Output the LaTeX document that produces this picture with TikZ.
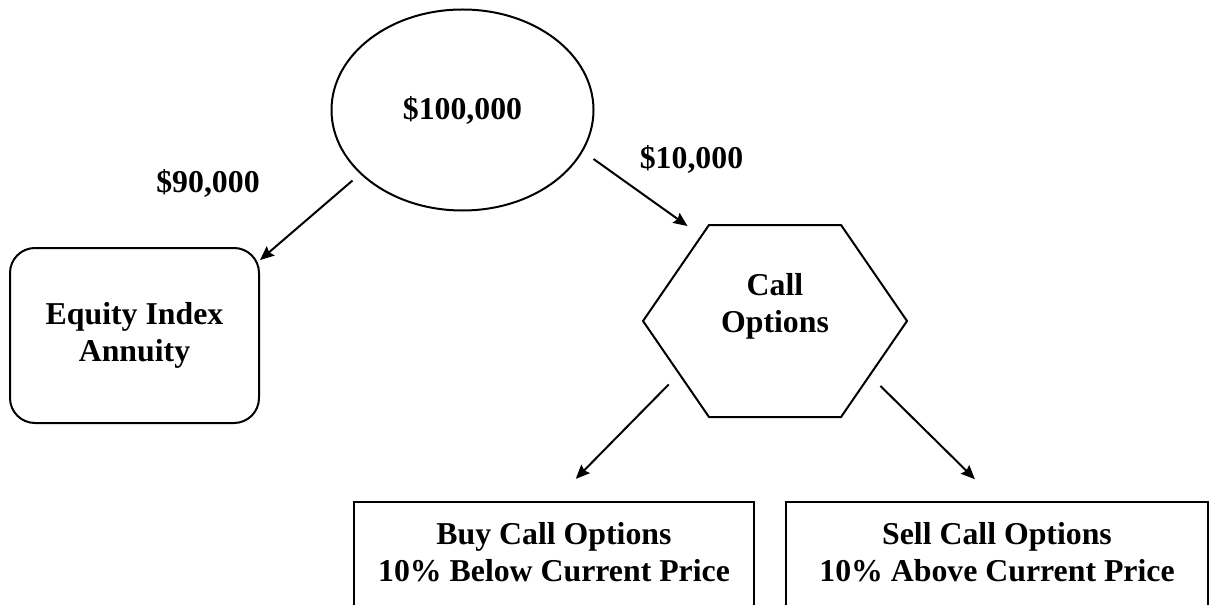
\documentclass[tikz,border=0pt]{standalone}
\usepackage{fontspec}
\setmainfont{Liberation Serif}
\usetikzlibrary{shapes,arrows.meta}

\begin{document}
\begin{tikzpicture}[x=0.5pt, y=-0.5pt, line width=1pt,
      every node/.append style={font=\bfseries\fontsize{15.9}{18.5}\selectfont, align=center},
      arr/.style={-{Stealth[length=7pt,width=6pt,inset=1pt]}}]
    \tikzstyle{money} = [draw, ellipse, inner sep=0pt, minimum width=131pt, minimum height=100.5pt]
    \tikzstyle{product} = [draw, rectangle, rounded corners=12.5pt, minimum width=124.5pt, minimum height=87.5pt]
    \tikzstyle{hexa} = [draw, signal, signal to=west and east, signal pointer angle=111,
      inner sep=0pt, minimum width=132pt, minimum height=96pt]
    \tikzstyle{trade} = [draw, rectangle, minimum height=68pt]
    \clip (0,0) rectangle (1213,604);
    \node (amount) [money] at (462.5,110) {\$100,000};
    \node (annuity) [product] at (134.5,335.5) {Equity Index\\Annuity};
    \node (calls) [hexa] at (775,321) {Call\\Options\\\mbox{}};
    \node (buy) [trade, minimum width=200pt] at (554,570) {Buy Call Options\\10\% Below Current Price\\\mbox{}};
    \node (sell) [trade, minimum width=211pt] at (997,570) {Sell Call Options\\10\% Above Current Price\\\mbox{}};
    \node (ninety) at (208,183) {\$90,000};
    \node (ten) at (691.5,159) {\$10,000};
    % connectors
    \draw [arr, shorten <=5pt] (amount.212) -- (annuity.31);
    \draw [arr, shorten <=6.5pt, shorten >=8pt] (amount.341.6) -- (calls.131.2);
    \draw [arr, shorten <=7pt, shorten >=15.5pt] (calls.209.5) -- (buy.north);
    \draw [arr, shorten <=7pt, shorten >=15.5pt] (calls.330.5) -- (sell.north);
\end{tikzpicture}
\end{document}
